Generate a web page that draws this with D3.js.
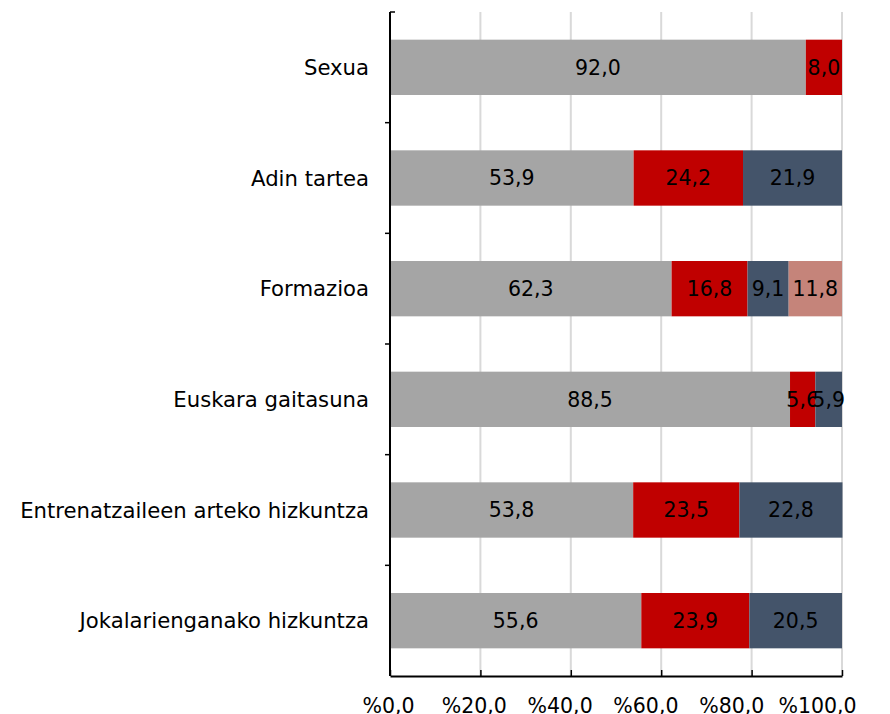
<!DOCTYPE html>
<html>
<head>
<meta charset="utf-8">
<script src="https://cdn.jsdelivr.net/npm/d3@7"></script>
<style>
  body { margin: 0; background: #fff; }
  svg text { font-family: Verdana, "DejaVu Sans", sans-serif; }
</style>
</head>
<body>
<div id="chart"></div>
<script>
// kategoriak eta serieak
const categories = ["Sexua", "Adin tartea", "Formazioa", "Euskara gaitasuna",
  "Entrenatzaileen arteko hizkuntza", "Jokalarienganako hizkuntza"];
const serie1 = [92.0, 53.9, 62.3, 88.5, 53.8, 55.6];
const serie2 = [8.0, 24.2, 16.8, 5.6, 23.5, 23.9];
const serie3 = [0, 21.9, 9.1, 5.9, 22.8, 20.5];
const serie4 = [0, 0, 11.8, 0, 0, 0];
const xTicks = [0, 20, 40, 60, 80, 100];
const colors = ["#a5a5a5", "#c00000", "#44546a", "#c5847a"];

const width = 890, height = 714;
const margin = { top: 12, right: 48, bottom: 38, left: 390 };
const fontSize = "20.5px";

const svg = d3.select("#chart").append("svg")
  .attr("width", width)
  .attr("height", height);

const x = d3.scaleLinear().domain([0, 100]).range([margin.left, width - margin.right]);
const y = d3.scaleBand().domain(categories)
  .range([margin.top, height - margin.bottom])
  .paddingInner(0.5).paddingOuter(0.25);

// taula pilatua
const table = categories.map((c, i) => ({
  cat: c, s0: serie1[i], s1: serie2[i], s2: serie3[i], s3: serie4[i]
}));
const stack = d3.stack().keys(["s0", "s1", "s2", "s3"])(table);

// sareta
svg.append("g").selectAll("line")
  .data(xTicks.slice(1))
  .join("line")
  .attr("x1", d => x(d)).attr("x2", d => x(d))
  .attr("y1", margin.top).attr("y2", height - margin.bottom)
  .attr("stroke", "#d9d9d9")
  .attr("stroke-width", 2);

// barrak
const layer = svg.append("g").selectAll("g")
  .data(stack)
  .join("g")
  .attr("fill", (d, i) => colors[i]);

layer.selectAll("rect")
  .data(d => d.filter(p => p[1] - p[0] > 0))
  .join("rect")
  .attr("x", d => x(d[0]))
  .attr("y", d => y(d.data.cat))
  .attr("width", d => x(d[1]) - x(d[0]))
  .attr("height", y.bandwidth());

// balioak
layer.selectAll("text")
  .data(d => d.filter(p => p[1] - p[0] > 0))
  .join("text")
  .attr("x", d => (x(d[0]) + x(d[1])) / 2)
  .attr("y", d => y(d.data.cat) + y.bandwidth() / 2)
  .attr("dy", "0.36em")
  .attr("text-anchor", "middle")
  .attr("fill", "#000")
  .style("font-size", fontSize)
  .text(d => d3.format(".1f")(d[1] - d[0]).replace(".", ","));

// ardatz bertikala
const yAxis = svg.append("g");
yAxis.append("line")
  .attr("x1", margin.left).attr("x2", margin.left)
  .attr("y1", margin.top).attr("y2", height - margin.bottom)
  .attr("stroke", "#000").attr("stroke-width", 2);
const bounds = categories.map(c => y(c) - y.step() * y.paddingInner() / 2).concat([height - margin.bottom]);
bounds[0] = margin.top;
yAxis.selectAll("line.tick")
  .data(bounds.slice(1, -1))
  .join("line")
  .attr("class", "tick")
  .attr("x1", margin.left - 5).attr("x2", margin.left)
  .attr("y1", d => d).attr("y2", d => d)
  .attr("stroke", "#000").attr("stroke-width", 1.5);
yAxis.append("line")
  .attr("x1", margin.left).attr("x2", margin.left + 5)
  .attr("y1", margin.top).attr("y2", margin.top)
  .attr("stroke", "#000").attr("stroke-width", 1.5);
yAxis.selectAll("text")
  .data(categories)
  .join("text")
  .attr("x", margin.left - 21)
  .attr("y", d => y(d) + y.bandwidth() / 2)
  .attr("dy", "0.36em")
  .attr("text-anchor", "end")
  .style("font-size", "21.2px")
  .text(d => d);

// ardatz horizontala
const xAxis = svg.append("g")
  .attr("transform", `translate(0,${height - margin.bottom})`)
  .call(d3.axisBottom(x).tickValues(xTicks)
    .tickSizeInner(-6).tickSizeOuter(0).tickPadding(22)
    .tickFormat(d => "%" + d3.format(".1f")(d).replace(".", ",")));
xAxis.select(".domain").attr("stroke", "#000").attr("stroke-width", 2);
xAxis.selectAll(".tick line").attr("stroke", "#000").attr("stroke-width", 1.5);
// etiketak pixka bat ezkerrera, azkena irudiaren barruan sartzeko
xAxis.selectAll(".tick text")
  .attr("fill", "#000")
  .attr("dx", d => -(2 + 0.23 * d))
  .style("font-size", fontSize)
  .style("font-family", "Verdana, 'DejaVu Sans', sans-serif");
</script>
</body>
</html>
